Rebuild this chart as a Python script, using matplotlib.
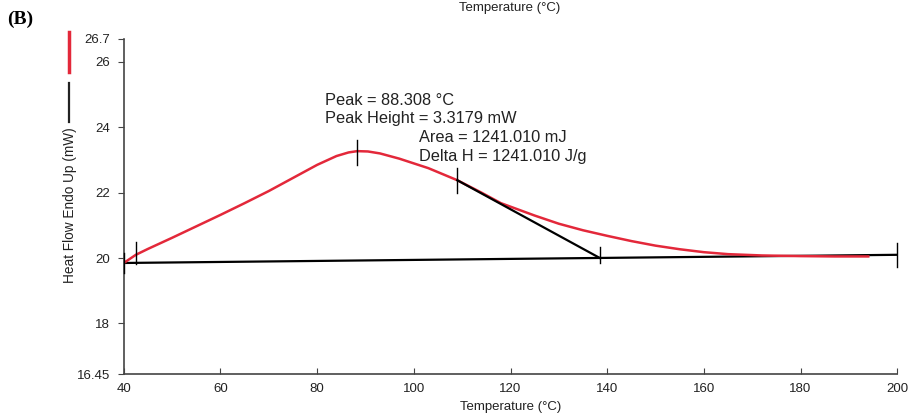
import numpy as np
import matplotlib
matplotlib.use('Agg')
import matplotlib.pyplot as plt

plt.rcParams['font.family'] = ['Liberation Sans', 'DejaVu Sans']

# heat flow curve
temp = [40, 42.5, 45, 50, 55, 60, 65, 70, 75, 80, 84, 86.5, 88.3, 90.5, 93,
        97, 103, 109, 114, 118, 125, 130, 135, 140, 145, 150, 155, 160, 165,
        172, 180, 187, 194]
heat_flow = [19.85, 20.1, 20.28, 20.62, 20.97, 21.32, 21.68, 22.05, 22.45,
             22.85, 23.12, 23.23, 23.27, 23.26, 23.2, 23.04, 22.75, 22.38,
             22.0, 21.68, 21.3, 21.05, 20.85, 20.68, 20.52, 20.38, 20.27,
             20.18, 20.12, 20.08, 20.06, 20.05, 20.05]

baseline_t = [40, 200]
baseline_y = [19.85, 20.1]

tangent_t = [109, 138.5]
tangent_y = [22.38, 20.0]

# short vertical markers: (temperature, low, high)
markers = [(40, 19.55, 20.15), (42.5, 19.82, 20.5), (88.3, 22.85, 23.6),
           (109, 22.0, 22.75), (138.5, 19.84, 20.35), (200, 19.73, 20.46)]

y_ticks = [16.45, 18, 20, 22, 24, 26, 26.7]
y_tick_labels = ['16.45', '18', '20', '22', '24', '26', '26.7']
x_ticks = [40, 60, 80, 100, 120, 140, 160, 180, 200]

notes = [(81.6, 24.82, 'Peak = 88.308 \u00b0C'),
         (81.6, 24.27, 'Peak Height = 3.3179 mW'),
         (101.1, 23.69, 'Area = 1241.010 mJ'),
         (101.1, 23.11, 'Delta H = 1241.010 J/g')]

red = '#e3283a'
font_size = 11.8
label_size = 9.5

fig = plt.figure(figsize=(9.1, 4.19), dpi=100)
ax = fig.add_axes([0.136, 0.107, 0.850, 0.800])

ax.plot(baseline_t, baseline_y, color='black', linewidth=1.6, zorder=2)
ax.plot(temp, heat_flow, color=red, linewidth=1.8, zorder=3)
ax.plot(tangent_t, tangent_y, color='black', linewidth=1.6, zorder=4)
for t, lo, hi in markers:
    ax.plot([t, t], [lo, hi], color='black', linewidth=1.0, zorder=5, clip_on=False)

for x, y, s in notes:
    ax.text(x, y, s, fontsize=font_size, color='#222222', va='center', ha='left')

ax.set_xlim(40, 200)
ax.set_ylim(16.45, 26.7)
ax.set_xticks(x_ticks)
ax.set_yticks(y_ticks)
ax.set_yticklabels(y_tick_labels)
ax.spines['top'].set_visible(False)
ax.spines['right'].set_visible(False)
for side in ['left', 'bottom']:
    ax.spines[side].set_color('#444444')
    ax.spines[side].set_linewidth(1.2)
ax.tick_params(axis='y', direction='out', length=4, labelsize=label_size,
               colors='#444444', labelcolor='#222222', pad=6)
ax.tick_params(axis='x', direction='in', length=4, labelsize=label_size,
               colors='#444444', labelcolor='#222222', pad=6)

ax.set_xlabel('Temperature (\u00b0C)', fontsize=9.5, color='#222222', labelpad=5)
fig.text(0.077, 0.51, 'Heat Flow Endo Up (mW)', rotation=90, fontsize=9.8,
         color='#222222', ha='center', va='center')
fig.text(0.56, 0.981, 'Temperature (\u00b0C)', fontsize=9.5, color='#222222',
         ha='center', va='center')
fig.text(0.008, 0.955, '(B)', fontsize=14, fontweight='bold',
         family='Liberation Serif', ha='left', va='center')

# legend-like strokes on the left
fig.add_artist(plt.Line2D([0.0758, 0.0758], [0.828, 0.924], color=red,
                          linewidth=2.5, transform=fig.transFigure))
fig.add_artist(plt.Line2D([0.0758, 0.0758], [0.709, 0.802], color='#222222',
                          linewidth=1.6, transform=fig.transFigure))

fig.savefig('out.png', dpi=100)
